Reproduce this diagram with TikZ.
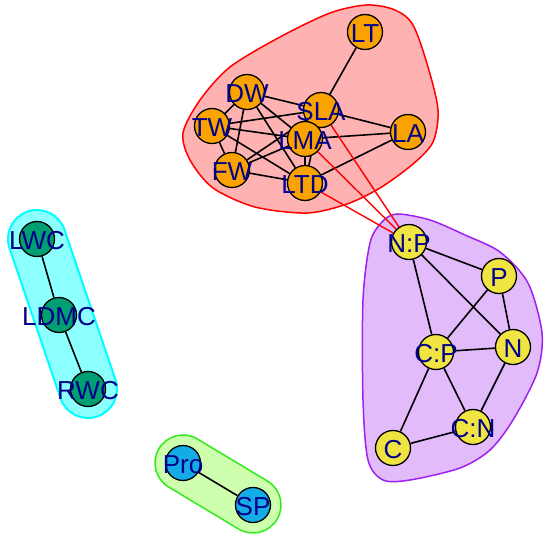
\documentclass[tikz,border=0pt]{standalone}
\usepackage{fontspec}
\setmainfont{Liberation Sans}
\usetikzlibrary{calc}
\definecolor{vorange}{RGB}{250,162,0}
\definecolor{vyellow}{HTML}{F0E442}
\definecolor{vgreen}{HTML}{009E73}
\definecolor{vblue}{RGB}{20,172,230}
\definecolor{labcol}{RGB}{0,0,139}
\definecolor{hred}{HTML}{FF0000}
\definecolor{hgreen}{RGB}{50,235,30}
\definecolor{hgreenfill}{RGB}{205,255,175}
\definecolor{hcyan}{HTML}{00FFFF}
\definecolor{hpurple}{RGB}{160,32,240}
\pgfdeclarelayer{hulls}
\pgfdeclarelayer{edges}
\pgfdeclarelayer{labels}
\pgfsetlayers{hulls,edges,main,labels}
\newcommand\mycapsule[4]{%
  \path[#4] let \p1=($(#2)-(#1)$), \n1={atan2(\y1,\x1)} in
    ($(#1)+(\n1+90:#3)$) -- ($(#2)+(\n1+90:#3)$)
    arc[start angle=\n1+90, delta angle=-180, radius=#3]
    -- ($(#1)+(\n1-90:#3)$)
    arc[start angle=\n1-90, delta angle=-180, radius=#3] -- cycle;}
\begin{document}
\begin{tikzpicture}[x=1pt,y=-1pt,
  vtx/.style={circle,draw=black,line width=1.3pt,minimum size=35pt,inner sep=0pt},
  lab/.style={text=labcol,font=\fontsize{26}{26}\selectfont,inner sep=0pt,yshift=-2pt},
  edge/.style={line width=1.6pt,black},
  cross/.style={line width=1.4pt,hred},
  hull/.style={line width=1.5pt}]
\useasboundingbox (0,0) rectangle (550,540);

% vertices
\node[vtx,fill=vorange] (LT) at (365,32) {};
\node[vtx,fill=vorange] (DW) at (247,92) {};
\node[vtx,fill=vorange] (TW) at (212,126) {};
\node[vtx,fill=vorange] (FW) at (232,170) {};
\node[vtx,fill=vorange] (LTD) at (305,183) {};
\node[vtx,fill=vorange] (LA) at (408,132) {};
\node[vtx,fill=vorange] (SLA) at (321,110) {};
\node[vtx,fill=vorange] (LMA) at (305,139) {};

\node[vtx,fill=vyellow] (NP) at (409,242) {};
\node[vtx,fill=vyellow] (P) at (499,276) {};
\node[vtx,fill=vyellow] (CP) at (436,352) {};
\node[vtx,fill=vyellow] (N) at (513,347) {};
\node[vtx,fill=vyellow] (CN) at (473,427) {};
\node[vtx,fill=vyellow] (C) at (393,448) {};

\node[vtx,fill=vgreen] (LWC) at (37,239) {};
\node[vtx,fill=vgreen] (LDMC) at (59,315) {};
\node[vtx,fill=vgreen] (RWC) at (88,389) {};

\node[vtx,fill=vblue] (Pro) at (183,463) {};
\node[vtx,fill=vblue] (SP) at (253,505) {};

% hulls
\begin{pgfonlayer}{hulls}
\draw[hull,draw=hred,fill=hred!30] plot[smooth cycle] coordinates {
  (183,133) (200,100) (230,67) (280,37) (330,13) (367,5) (395,10)
  (413,25) (428,67) (438,110) (433,142) (413,164) (380,188) (347,204)
  (307,213) (255,207) (213,188) (190,160)};
\draw[hull,draw=hpurple,fill=hpurple!30] plot[smooth cycle] coordinates {
  (397,214) (430,220) (465,235) (500,252) (528,283) (542,333) (537,373)
  (513,420) (490,450) (460,468) (410,480) (383,480) (368,460)
  (363,400) (363,300) (370,243) (382,222)};
\mycapsule{LWC}{RWC}{29pt}{hull,line width=2pt,draw=hcyan,fill=hcyan!45}
\mycapsule{Pro}{SP}{28pt}{hull,draw=hgreen,fill=hgreenfill}
\end{pgfonlayer}

% edges
\begin{pgfonlayer}{edges}
\draw[edge] (LT) -- (SLA);
\draw[edge] (DW) -- (SLA);
\draw[edge] (DW) -- (TW);
\draw[edge] (DW) -- (FW);
\draw[edge] (DW) -- (LMA);
\draw[edge] (DW) -- (LTD);
\draw[edge] (TW) -- (SLA);
\draw[edge] (TW) -- (LMA);
\draw[edge] (TW) -- (FW);
\draw[edge] (TW) -- (LTD);
\draw[edge] (FW) -- (LMA);
\draw[edge] (FW) -- (SLA);
\draw[edge] (FW) -- (LTD);
\draw[edge] (LMA) -- (LTD);
\draw[edge] (SLA) -- (LTD);
\draw[edge] (SLA) -- (LA);
\draw[edge] (LMA) -- (LA);
\draw[edge] (LTD) -- (LA);
\draw[cross] (SLA) -- (NP);
\draw[cross] (LMA) -- (NP);
\draw[cross] (LTD) -- (NP);
\draw[edge] (NP) -- (P);
\draw[edge] (NP) -- (CP);
\draw[edge] (NP) -- (N);
\draw[edge] (P) -- (CP);
\draw[edge] (P) -- (N);
\draw[edge] (CP) -- (N);
\draw[edge] (CP) -- (CN);
\draw[edge] (CP) -- (C);
\draw[edge] (N) -- (CN);
\draw[edge] (C) -- (CN);
\draw[edge] (LWC) -- (LDMC);
\draw[edge] (LDMC) -- (RWC);
\draw[edge] (Pro) -- (SP);
\end{pgfonlayer}

% labels
\begin{pgfonlayer}{labels}
\node[lab] (tLT) at (LT) {LT};
\node[lab] (tDW) at (DW) {DW};
\node[lab] (tTW) at (TW) {TW};
\node[lab] (tFW) at (FW) {FW};
\node[lab] (tLTD) at (LTD) {LTD};
\node[lab] (tLA) at (LA) {LA};
\node[lab] (tSLA) at (SLA) {SLA};
\node[lab] (tLMA) at (LMA) {LMA};
\node[lab] (tNP) at (NP) {N:P};
\node[lab] (tP) at (P) {P};
\node[lab] (tCP) at (CP) {C:P};
\node[lab] (tN) at (N) {N};
\node[lab] (tCN) at (CN) {C:N};
\node[lab] (tC) at (C) {C};
\node[lab] (tLWC) at (LWC) {LWC};
\node[lab] (tLDMC) at (LDMC) {LDMC};
\node[lab] (tRWC) at (RWC) {RWC};
\node[lab] (tPro) at (Pro) {Pro};
\node[lab] (tSP) at (SP) {SP};
\end{pgfonlayer}
\end{tikzpicture}
\end{document}
